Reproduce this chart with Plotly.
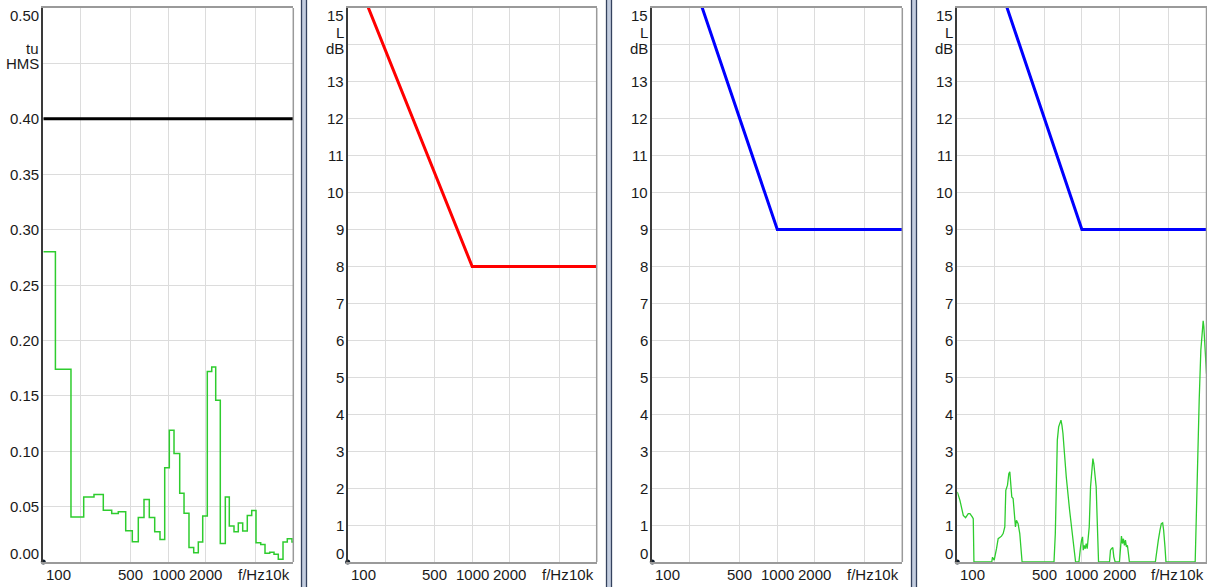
import math
import plotly.graph_objects as go

# ---------------- data ----------------
# Panel 1: stepped band spectrum (band edges in Hz, one value per band)
band_edges_hz = [100, 125, 166.5, 210.5, 254.4, 302, 352.6, 398, 456.3, 515.2,
                 575.4, 639.1, 704.7, 778.4, 858.2, 935.9, 1019, 1111, 1234, 1336,
                 1464, 1597, 1738, 1885, 2051, 2225, 2395, 2606, 2858, 3076,
                 3354, 3631, 3937, 4285, 4648, 5030, 5486, 5937, 6474, 7008,
                 7586, 8273, 8954, 9763, 10000]
band_values = [0.280, 0.174, 0.0407, 0.0587, 0.0609, 0.0468, 0.0438, 0.0453, 0.0282, 0.0183,
               0.0402, 0.0564, 0.0402, 0.0273, 0.0204, 0.085, 0.119, 0.098, 0.062, 0.044,
               0.013, 0.0084, 0.018, 0.0416, 0.172, 0.176, 0.146, 0.0168, 0.0587, 0.0324,
               0.0273, 0.0353, 0.0279, 0.042, 0.0465, 0.0174, 0.0159, 0.0078, 0.0087, 0.0069,
               0.0024, 0.018, 0.021, 0.018]
threshold_f = [100, 10000]
threshold_v = [0.40, 0.40]

# Panel 2: red limit curve
red_limit_f = [100, 1000, 10000]
red_limit_L = [16.4, 8, 8]

# Panels 3 and 4: blue limit curve
blue_limit_f = [100, 1000, 10000]
blue_limit_L = [19, 9, 9]

# Panel 4: green spectrum
spec_f = [100, 105, 111.7, 116.6, 122.5, 126.3, 131.8, 134.3, 136,
          189, 191.7, 197.7, 206.4, 212.8, 226.3, 233.3, 240.6, 245.1, 252.8, 259.1,
          263.9, 268.8, 273.8, 280.5, 287.5, 292.9, 298.3, 307.6, 317.2, 331.1,
          597, 611.9, 623.3, 634.9, 650.7, 666.8, 679.2, 691.8, 704.7, 722.2,
          749.3, 796.9, 847.2, 889.9,
          946.2, 958, 975.7, 993.8, 1012, 1025, 1044, 1063, 1083, 1103,
          1124, 1145, 1173, 1202, 1225, 1247, 1271, 1302, 1327, 1360,
          1665, 1696, 1728, 1770, 1803, 1848,
          2001, 2039, 2077, 2115, 2154, 2194, 2235, 2277, 2319, 2362, 2406,
          3885, 3981, 4105, 4234, 4340, 4446, 4529, 4642, 4728,
          8114, 8318, 8520, 8736, 9008, 9179, 9404, 9521, 9698, 9878, 10000]
spec_L = [1.90, 1.67, 1.26, 1.20, 1.31, 1.31, 1.22, 1.17, 0,
          0, 0.13, 0.05, 0.36, 0.63, 0.70, 0.77, 0.95, 1.94, 2.08, 2.39,
          2.44, 2.17, 1.76, 1.72, 1.22, 0.95, 1.13, 1.04, 0.77, 0,
          0, 0.77, 2.03, 3.30, 3.66, 3.75, 3.84, 3.70, 3.48, 3.0,
          2.3, 1.4, 0.6, 0,
          0, 0.23, 0.41, 0.59, 0.68, 0.32, 0.45, 0.36, 0.50, 0.36,
          0.59, 0.95, 2.03, 2.57, 2.80, 2.66, 2.44, 2.03, 1.13, 0,
          0, 0.32, 0.36, 0.39, 0.14, 0,
          0, 0.41, 0.70, 0.50, 0.63, 0.45, 0.59, 0.41, 0.45, 0.23, 0,
          0, 0.32, 0.59, 0.86, 1.04, 1.06, 0.86, 0.41, 0,
          0, 1.67, 3.03, 4.38, 5.74, 6.19, 6.53, 6.37, 5.92, 5.3, 5.1]

# Axis ticks / labels
x_grid_hz = [200, 500, 1000, 2000, 5000]
x_label_hz = [100, 500, 1000, 2000, 5000, 10000]
x_label_txt = ["100", "500", "1000", "2000", "f/Hz", "10k"]

p1_yticks = [0.00, 0.05, 0.10, 0.15, 0.20, 0.25, 0.30, 0.35, 0.40, 0.45, 0.50]
p1_ylabels = ["0.00", "0.05", "0.10", "0.15", "0.20", "0.25", "0.30", "0.35", "0.40", None, "0.50"]
p1_unit = ["tu", "HMS"]

db_yticks = list(range(0, 16))
db_ylabels = [str(v) for v in range(0, 14)] + [None, "15"]
db_unit = ["L", "dB"]

# ---------------- figure ----------------
W, H = 1207, 587
GREEN = "#2ecc2e"
FONT = "Liberation Sans, Arial, sans-serif"
TXT = "#1a1a1a"

fig = go.Figure()

panel_px = [(43.3, 293.3), (347.7, 596.7), (652.3, 902.3), (957.3, 1206.5)]
y_top_px, y_bot_px = 8, 562

axes_names = ["", "2", "3", "4"]

for i, (l, r) in enumerate(panel_px):
    n = axes_names[i]
    xa = "xaxis" + n
    ya = "yaxis" + n
    if i == 0:
        yrange = [0, 0.5]
        ytv = p1_yticks
    else:
        yrange = [0, 15]
        ytv = db_yticks
    fig.update_layout(**{
        xa: dict(type="log", range=[2, 4], domain=[l / W, r / W], anchor="y" + n,
                 tickvals=x_grid_hz, showticklabels=False, ticks="",
                 showgrid=True, gridcolor="#dcdcdc", gridwidth=1,
                 showline=True, linecolor="#9a9a9a", linewidth=1.5, mirror=True,
                 zeroline=False, fixedrange=True),
        ya: dict(range=yrange, domain=[(H - y_bot_px) / H, (H - y_top_px) / H],
                 anchor="x" + n, tickvals=ytv, showticklabels=False, ticks="",
                 showgrid=True, gridcolor="#dcdcdc", gridwidth=1,
                 showline=True, linecolor="#3a3a3a", linewidth=1.5, mirror=False,
                 zeroline=False, fixedrange=True),
    })
    # right border in grey
    fig.add_shape(type="line", xref="x" + n + " domain", yref="y" + n + " domain",
                  x0=1, x1=1, y0=0, y1=1, line=dict(color="#9a9a9a", width=1.5))

# traces
fig.add_trace(go.Scatter(x=threshold_f, y=threshold_v, mode="lines",
                         line=dict(color="#000000", width=3), xaxis="x", yaxis="y"))
fig.add_trace(go.Scatter(x=band_edges_hz, y=band_values + [band_values[-1]], mode="lines",
                         line=dict(color=GREEN, width=1.5, shape="hv"), xaxis="x", yaxis="y"))
fig.add_trace(go.Scatter(x=red_limit_f, y=red_limit_L, mode="lines",
                         line=dict(color="#ff0000", width=3), xaxis="x2", yaxis="y2"))
fig.add_trace(go.Scatter(x=blue_limit_f, y=blue_limit_L, mode="lines",
                         line=dict(color="#0000ff", width=3), xaxis="x3", yaxis="y3"))
fig.add_trace(go.Scatter(x=spec_f, y=spec_L, mode="lines",
                         line=dict(color=GREEN, width=1.3), xaxis="x4", yaxis="y4"))
fig.add_trace(go.Scatter(x=blue_limit_f, y=blue_limit_L, mode="lines",
                         line=dict(color="#0000ff", width=3), xaxis="x4", yaxis="y4"))

# origin dots
for n in axes_names:
    fig.add_trace(go.Scatter(x=[100], y=[0], mode="markers", cliponaxis=False,
                             marker=dict(color="#0d1b2a", size=5),
                             xaxis="x" + n, yaxis="y" + n))

annotations = []
font = dict(family=FONT, size=15, color=TXT)
for i, n in enumerate(axes_names):
    # x tick labels
    for v, t in zip(x_label_hz, x_label_txt):
        if v == 100:
            xanchor, xs = "left", 1
        elif v == 10000:
            xanchor, xs = "right", -1
        elif t == "f/Hz":
            xanchor, xs = "center", -4
        else:
            xanchor, xs = "center", 0
        annotations.append(dict(x=math.log10(v), y=0, xref="x" + n, yref="y" + n + " domain",
                                text=t, showarrow=False, xanchor=xanchor, yanchor="top",
                                xshift=xs, yshift=-2, font=font))
    # y tick labels
    if i == 0:
        ticks, labels, unit = p1_yticks, p1_ylabels, p1_unit
        unit_val, unit_shifts = 0.45, [15, 0]
    else:
        ticks, labels, unit = db_yticks, db_ylabels, db_unit
        unit_val, unit_shifts = 14, [12, -4]
    for k, (v, t) in enumerate(zip(ticks, labels)):
        if t is None:
            continue
        ys = 0
        if k == 0:
            ys = 9
        elif k == len(ticks) - 1:
            ys = -7
        annotations.append(dict(x=0, y=v, xref="x" + n + " domain", yref="y" + n,
                                text=t, showarrow=False, xanchor="right", yanchor="middle",
                                xshift=-2, yshift=ys, font=font))
    for t, ys in zip(unit, unit_shifts):
        annotations.append(dict(x=0, y=unit_val, xref="x" + n + " domain", yref="y" + n,
                                text=t, showarrow=False, xanchor="right", yanchor="middle",
                                xshift=-2, yshift=ys, font=font))

# separators between panels
shapes = []
for xl in [301.5, 606.5, 911.5]:
    shapes.append(dict(type="rect", xref="paper", yref="paper",
                       x0=xl / W, x1=(xl + 5) / W, y0=0, y1=1,
                       fillcolor="#c3cddf", line=dict(width=0), layer="above"))
    for xx in (xl, xl + 5):
        shapes.append(dict(type="line", xref="paper", yref="paper",
                           x0=xx / W, x1=xx / W, y0=0, y1=1,
                           line=dict(color="#34425e", width=1.3), layer="above"))
for s in shapes:
    fig.add_shape(**s)

fig.update_layout(width=W, height=H, margin=dict(l=0, r=0, t=0, b=0),
                  paper_bgcolor="white", plot_bgcolor="white", showlegend=False,
                  annotations=annotations, font=dict(family=FONT, color=TXT))

fig.write_html("out.html", config={"displayModeBar": False},
               post_script="document.body.style.margin='0px';"
                           "document.body.style.overflow='hidden';")
